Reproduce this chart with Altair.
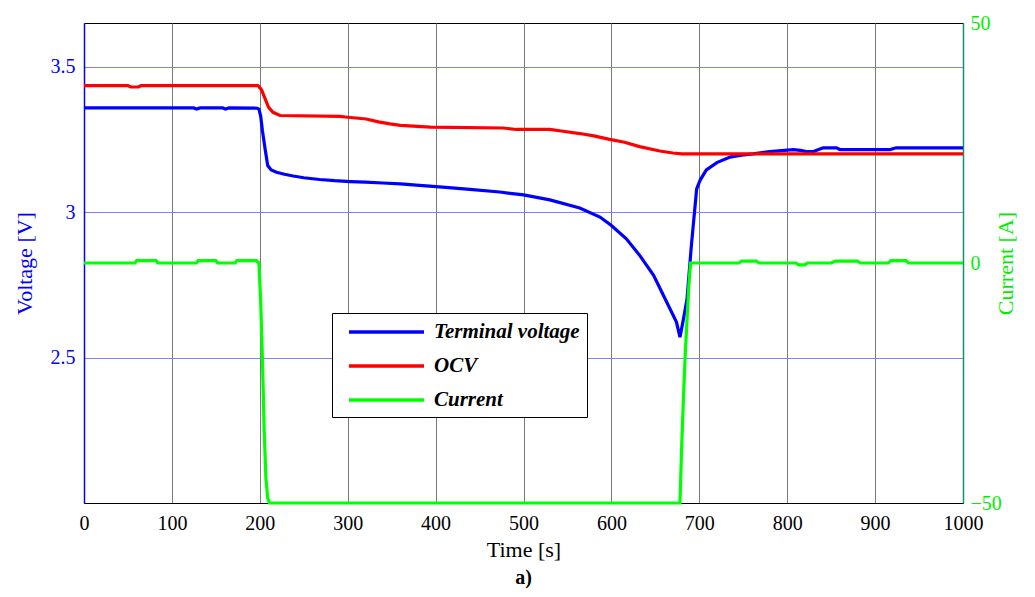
import altair as alt
import pandas as pd

# ---- data ----
t_term = [0, 40, 80, 125, 128, 132, 158, 161, 165, 197, 199, 201, 203, 206, 209, 213, 219, 228, 238, 250,
          268, 285, 303, 320, 340, 360, 378, 393, 408, 439, 473, 500, 530, 564, 587, 600, 617, 632, 648,
          663, 674, 678, 682, 686, 691, 697, 701, 708, 720, 735, 748, 761, 780, 807, 815, 822, 830, 835,
          841, 856, 860, 917, 924, 1000]
v_term = [3.358, 3.358, 3.358, 3.358, 3.354, 3.358, 3.358, 3.354, 3.358, 3.357, 3.354, 3.33, 3.28, 3.218,
          3.16, 3.145, 3.137, 3.13, 3.124, 3.118, 3.112, 3.108, 3.105, 3.103, 3.1, 3.097, 3.093, 3.089,
          3.086, 3.078, 3.069, 3.059, 3.042, 3.014, 2.983, 2.954, 2.908, 2.852, 2.783, 2.69, 2.622, 2.57,
          2.633, 2.70, 2.886, 3.08, 3.11, 3.145, 3.17, 3.189, 3.196, 3.2, 3.208, 3.215, 3.212, 3.208,
          3.208, 3.214, 3.221, 3.221, 3.215, 3.215, 3.221, 3.221]

t_ocv = [0, 50, 53, 62, 65, 198, 202, 206, 210, 215, 223, 291, 300, 321, 335, 348, 360, 394, 477, 492,
         530, 545, 564, 580, 598, 615, 632, 655, 670, 680, 1000]
v_ocv = [3.435, 3.435, 3.43, 3.43, 3.435, 3.435, 3.42, 3.39, 3.36, 3.343, 3.332, 3.329, 3.326, 3.32,
         3.31, 3.303, 3.298, 3.292, 3.289, 3.284, 3.284, 3.278, 3.27, 3.262, 3.25, 3.24, 3.225, 3.21,
         3.203, 3.20, 3.20]

t_cur = [0, 58, 60, 82, 84, 128, 130, 150, 152, 172, 174, 196, 199, 201, 203, 205, 207, 209, 211, 678,
         680, 682, 684, 686, 688, 690, 745, 748, 765, 768, 810, 813, 820, 823, 850, 855, 880, 883, 915,
         918, 935, 938, 1000]
i_cur = [0, 0, 0.5, 0.5, 0, 0, 0.5, 0.5, 0, 0, 0.5, 0.5, 0, -8, -20, -35, -45, -49, -50, -50, -38, -28,
         -19, -12, -5, 0, 0, 0.4, 0.4, 0, 0, -0.4, -0.4, 0, 0, 0.4, 0.4, 0, 0, 0.5, 0.5, 0, 0]

series_names = ["Terminal voltage", "OCV", "Current"]
series_colors = ["#0000ff", "#ff0000", "#00ff00"]
x_ticks = [0, 100, 200, 300, 400, 500, 600, 700, 800, 900, 1000]
v_ticks = [2.5, 3, 3.5]
i_ticks = [-50, 0, 50]

df_v = pd.concat([
    pd.DataFrame({"t": t_term, "val": v_term, "series": series_names[0], "idx": range(len(t_term))}),
    pd.DataFrame({"t": t_ocv, "val": v_ocv, "series": series_names[1], "idx": range(len(t_ocv))}),
])
df_i = pd.DataFrame({"t": t_cur, "cur": i_cur, "series": series_names[2], "idx": range(len(t_cur))})

FONT = "'Times New Roman', Times, 'Liberation Serif', 'Noto Serif', 'DejaVu Serif', serif"

color = alt.Color(
    "series:N",
    scale=alt.Scale(domain=series_names, range=series_colors),
    legend=alt.Legend(
        title=None, orient="none", legendX=248, legendY=290,
        symbolType="M-0.2,0H7.3", symbolSize=400, symbolStrokeWidth=3.5,
        labelFont=FONT, labelFontSize=21, labelFontStyle="italic", labelFontWeight="bold",
        labelColor="black", labelOffset=71, labelLimit=400,
        padding=7, rowPadding=12, strokeColor="black", fillColor="white",
    ),
)

xenc = alt.X(
    "t:Q",
    scale=alt.Scale(domain=[0, 1000], nice=False),
    axis=alt.Axis(
        title="Time [s]", values=x_ticks, format="d", grid=True, gridColor="#7a7a7a", gridWidth=1,
        domainColor="black", ticks=False, labelFont=FONT, labelFontSize=20, labelColor="black",
        labelPadding=10, labelFlush=False, titleFont=FONT, titleFontSize=22, titleFontWeight="normal",
        titleColor="black", titlePadding=6,
    ),
)

volt = alt.Chart(df_v).mark_line(strokeWidth=3.2).encode(
    x=xenc,
    y=alt.Y(
        "val:Q",
        scale=alt.Scale(domain=[2.0, 3.65], nice=False, zero=False),
        axis=alt.Axis(
            orient="left", title="Voltage [V]", values=v_ticks, format=".1~f", grid=True,
            gridColor="#8080ff", gridWidth=1, domainColor="#0000ff", domainWidth=1.5, ticks=False,
            labelFont=FONT, labelFontSize=20, labelColor="#0000ff", labelPadding=9,
            titleFont=FONT, titleFontSize=22, titleFontWeight="normal", titleColor="#0000ff",
            titlePadding=14,
        ),
    ),
    color=color,
    order="idx:Q",
)

curr = alt.Chart(df_i).mark_line(strokeWidth=3.2).encode(
    x=xenc,
    y=alt.Y(
        "cur:Q",
        scale=alt.Scale(domain=[-50, 50], nice=False),
        axis=alt.Axis(
            orient="right", title="Current [A]", values=i_ticks, grid=False,
            domainColor="#159070", domainWidth=1.5, ticks=False,
            labelFont=FONT, labelFontSize=20, labelColor="#00ee00", labelPadding=7,
            titleFont=FONT, titleFontSize=22, titleFontWeight="normal", titleColor="#00ee00",
            titleAngle=270, titlePadding=16,
        ),
    ),
    color=color,
    order="idx:Q",
)

chart = (
    alt.layer(volt, curr)
    .resolve_scale(y="independent")
    .properties(
        width=879, height=480,
        autosize=alt.AutoSizeParams(type="none"),
        padding={"left": 84, "top": 23, "right": 72, "bottom": 94},
        title=alt.TitleParams("a)", orient="bottom", anchor="middle", font=FONT, fontSize=20,
                              fontWeight="bold", color="black", offset=8),
        background="white",
    )
    .configure_view(stroke="black", strokeWidth=1)
)

chart.save("out.html", embed_options={"renderer": "svg", "actions": False})
